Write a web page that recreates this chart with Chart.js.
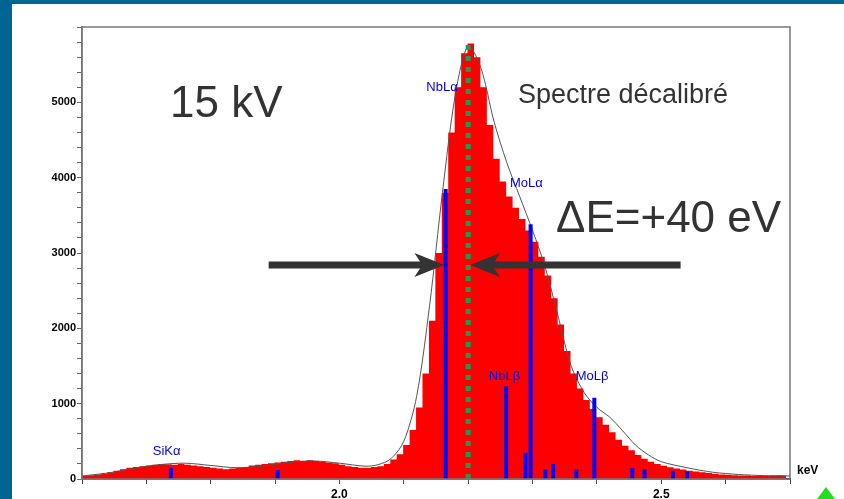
<!DOCTYPE html>
<html lang="fr">
<head>
<meta charset="UTF-8">
<script src="https://cdn.jsdelivr.net/npm/chart.js@4"></script>
<style>
  html, body { margin: 0; padding: 0; background: #006592; }
  #wrap { width: 844px; height: 499px; }
</style>
</head>
<body>
<div id="wrap"><canvas id="c" width="844" height="499"></canvas></div>
<script>
'use strict';

// Spectre EDS (histogramme, pas 0.01 keV)
const binStart = 1.589;
const binWidth = 0.01;
const counts = [
  30, 40, 50, 60, 70, 90, 110, 130, 150, 160,
  170, 180, 190, 200, 195, 190, 200, 190, 180, 170,
  160, 150, 140, 130, 140, 150, 160, 180, 190, 200,
  210, 220, 230, 240, 250, 240, 250, 240, 230, 220,
  210, 190, 170, 160, 150, 150, 160, 170, 200, 260,
  330, 450, 650, 950, 1400, 2100, 3000, 3800, 4600, 5200,
  5650, 5780, 5600, 5200, 4700, 4250, 3950, 3750, 3600, 3450,
  3300, 3150, 2950, 2700, 2400, 2050, 1700, 1400, 1200, 1050,
  930, 820, 720, 620, 520, 440, 380, 320, 270, 230,
  200, 175, 155, 140, 125, 110, 100, 90, 80, 70,
  60, 55, 50, 45, 45, 40, 45, 40, 45, 50, 45
];

// Courbe ajustée (keV, coups)
const fitX = [1.60, 1.64, 1.68, 1.72, 1.76, 1.80, 1.84, 1.88, 1.92, 1.96, 2.00, 2.04, 2.06, 2.08, 2.10,
  2.12, 2.14, 2.16, 2.18, 2.20, 2.22, 2.24, 2.26, 2.28, 2.30, 2.32, 2.34, 2.36, 2.38, 2.40,
  2.42, 2.44, 2.46, 2.48, 2.50, 2.54, 2.58, 2.62, 2.66, 2.70];
const fitY = [40, 80, 140, 190, 210, 180, 150, 170, 220, 240, 210, 170, 190, 270, 500,
  1100, 2300, 3800, 5100, 5750, 5450, 4750, 4200, 3750, 3300, 2800, 2150, 1500, 1150, 950,
  820, 640, 450, 320, 230, 150, 90, 60, 45, 40];

// Raies (keV, hauteur)
const lineX = [1.738, 1.904, 2.165, 2.259, 2.289, 2.297, 2.320, 2.332, 2.368, 2.396, 2.455, 2.474, 2.518, 2.540];
const lineY = [150, 120, 3850, 1230, 350, 3380, 130, 200, 130, 1080, 150, 130, 110, 100];

const refEnergy = 2.20;          // ligne verte pointillée
const refTop = 5800;
const labels = [
  { t: 'SiKα', x: 1.71, y: 320 },
  { t: 'NbLα', x: 2.135, y: 5150 },
  { t: 'MoLα', x: 2.265, y: 3880 },
  { t: 'NbLβ', x: 2.232, y: 1320 },
  { t: 'MoLβ', x: 2.367, y: 1320 }
];

const histData = counts.map((v, i) => ({ x: binStart + binWidth * (i + 0.5), y: v }));
const fitData = fitX.map((x, i) => ({ x, y: fitY[i] }));
const lineData = [];
lineX.forEach((x, i) => {
  lineData.push({ x, y: 0 }, { x, y: lineY[i] }, { x, y: null });
});

function arrow(ctx, x1, x2, y) {
  const dir = Math.sign(x2 - x1);
  ctx.strokeStyle = '#333';
  ctx.fillStyle = '#333';
  ctx.lineWidth = 7;
  ctx.beginPath();
  ctx.moveTo(x1, y);
  ctx.lineTo(x2 - dir * 20, y);
  ctx.stroke();
  ctx.beginPath();
  ctx.moveTo(x2, y);
  ctx.lineTo(x2 - dir * 30, y - 12);
  ctx.lineTo(x2 - dir * 22, y);
  ctx.lineTo(x2 - dir * 30, y + 12);
  ctx.closePath();
  ctx.fill();
}

const decor = {
  id: 'decor',
  beforeDraw(chart) {
    const ctx = chart.ctx;
    ctx.save();
    ctx.fillStyle = '#006592';
    ctx.fillRect(0, 0, chart.width, chart.height);
    ctx.fillStyle = '#fff';
    ctx.fillRect(12, 4, chart.width - 12, chart.height - 4);
    ctx.restore();
  },
  afterDraw(chart) {
    const ctx = chart.ctx;
    const a = chart.chartArea;
    const xs = chart.scales.x, ys = chart.scales.y;
    ctx.save();
    ctx.strokeStyle = '#777';
    ctx.lineWidth = 1.5;
    ctx.strokeRect(a.left, a.top, a.right - a.left, a.bottom - a.top);

    ctx.fillStyle = '#0000ee';
    ctx.font = '13px "Liberation Sans", Arial, sans-serif';
    labels.forEach(l => ctx.fillText(l.t, xs.getPixelForValue(l.x), ys.getPixelForValue(l.y)));

    ctx.fillStyle = '#333';
    ctx.font = '44px "Liberation Sans", Arial, sans-serif';
    ctx.fillText('15 kV', 170, 117);
    ctx.fillText('ΔE=+40 eV', 556, 232);
    ctx.font = '27px "Liberation Sans", Arial, sans-serif';
    ctx.fillText('Spectre décalibré', 518, 103);

    ctx.fillStyle = '#000';
    ctx.font = 'bold 12px "Liberation Sans", Arial, sans-serif';
    ctx.fillText('keV', 797, 474);

    const yArr = ys.getPixelForValue(2840);
    arrow(ctx, xs.getPixelForValue(1.89), xs.getPixelForValue(2.163), yArr);
    arrow(ctx, xs.getPixelForValue(2.53), xs.getPixelForValue(2.203), yArr);

    // petit triangle vert
    ctx.fillStyle = '#22dd22';
    ctx.beginPath();
    ctx.moveTo(826, 487); ctx.lineTo(817, 499); ctx.lineTo(835, 499);
    ctx.closePath(); ctx.fill();
    ctx.restore();
  }
};

new Chart(document.getElementById('c'), {
  type: 'line',
  data: {
    datasets: [
      {
        data: [{ x: refEnergy, y: 0 }, { x: refEnergy, y: refTop }],
        borderColor: '#1e9b50', borderWidth: 5, borderDash: [5, 6],
        pointRadius: 0, order: 0
      },
      {
        data: lineData,
        borderColor: '#0000ff', borderWidth: 4, spanGaps: false,
        pointRadius: 0, order: 1
      },
      {
        data: fitData,
        borderColor: '#555', borderWidth: 1, tension: 0.3,
        pointRadius: 0, order: 2
      },
      {
        data: histData,
        stepped: 'middle', borderColor: '#ff0000', borderWidth: 0,
        backgroundColor: '#ff0000', fill: 'origin',
        pointRadius: 0, order: 3
      }
    ]
  },
  options: {
    responsive: false,
    animation: false,
    layout: { padding: { left: 22, top: 27, right: 54, bottom: 0 } },
    plugins: { legend: { display: false }, tooltip: { enabled: false } },
    scales: {
      x: {
        type: 'linear', min: 1.6, max: 2.7,
        afterFit: s => { s.height = 20; },
        grid: { drawOnChartArea: false, color: '#444', tickLength: 5 },
        border: { color: '#000', width: 1.5 },
        ticks: {
          stepSize: 0.1, autoSkip: false, maxRotation: 0, color: '#000',
          font: { weight: 'bold', size: 12, family: '"Liberation Sans", Arial' },
          callback: v => (Math.abs(v - 2.0) < 1e-6 ? '2.0' : Math.abs(v - 2.5) < 1e-6 ? '2.5' : '')
        }
      },
      y: {
        min: 0, max: 6000,
        afterFit: s => { s.width = 60; },
        grid: { drawOnChartArea: false, color: '#666', tickLength: 5 },
        border: { color: '#777', width: 1.5 },
        ticks: {
          stepSize: 200, autoSkip: false, color: '#000', padding: 1,
          font: { weight: 'bold', size: 11, family: '"Liberation Sans", Arial' },
          callback: v => (v % 1000 === 0 && v < 6000 ? String(v) : '')
        }
      }
    }
  },
  plugins: [decor]
});
</script>
</body>
</html>
